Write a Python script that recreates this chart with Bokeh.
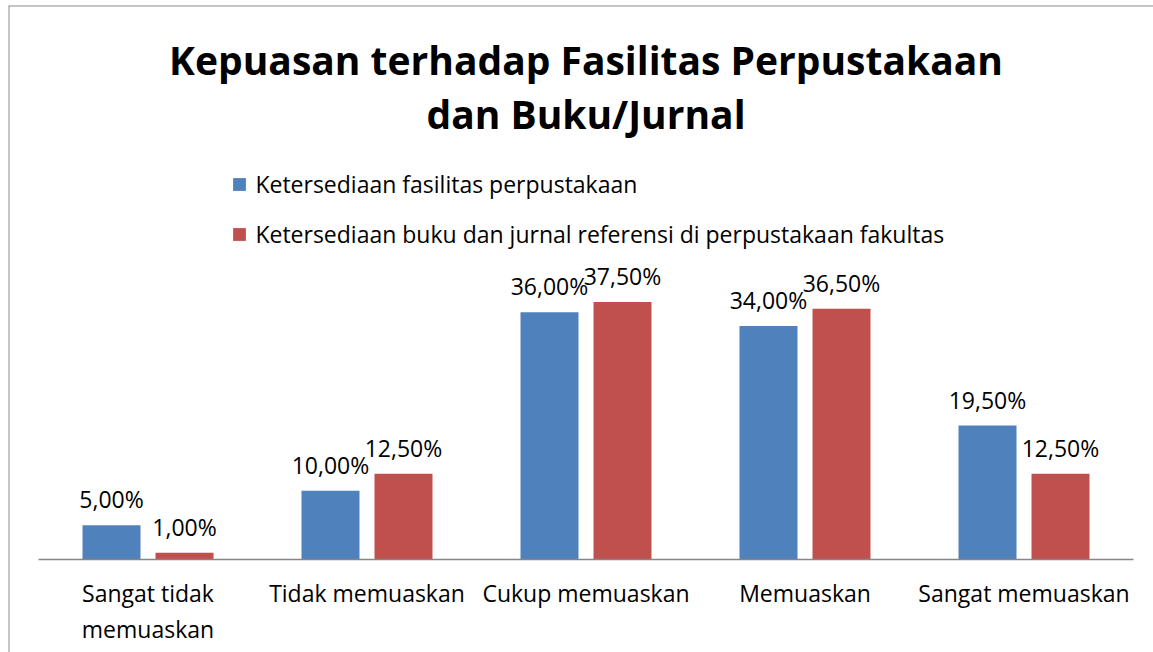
from bokeh.plotting import figure
from bokeh.models import ColumnDataSource, Label, Legend, LegendItem, FixedTicker, Range1d, Span
from bokeh.transform import dodge
from bokeh.core.properties import value
from bokeh.embed import file_html
from bokeh.resources import INLINE

# ---- data ----
categories = ["Sangat tidak\nmemuaskan", "Tidak memuaskan", "Cukup memuaskan", "Memuaskan", "Sangat memuaskan"]
fasilitas = [5.0, 10.0, 36.0, 34.0, 19.5]
buku = [1.0, 12.5, 37.5, 36.5, 12.5]
series_names = ["Ketersediaan fasilitas perpustakaan",
                "Ketersediaan buku dan jurnal referensi di perpustakaan fakultas"]
title_lines = ["Kepuasan terhadap Fasilitas Perpustakaan", "dan Buku/Jurnal"]


def fmt(v):
    return f"{v:.2f}".replace(".", ",") + "%"


idx = list(range(len(categories)))
src = ColumnDataSource(dict(
    idx=idx,
    fas=fasilitas,
    buk=buku,
    fas_lbl=[fmt(v) for v in fasilitas],
    buk_lbl=[fmt(v) for v in buku],
))

BLUE = "#4F81BD"
RED = "#C0504D"
FONT = "Open Sans"
W, H = 1153, 652
LEFT, TOP = 8, 5                 # frame (= chart border) offsets
XPX = 219.0                      # px per category
YPX = 6.87                       # px per percent
FRAME_W, FRAME_H = W - LEFT, H - TOP
x0 = -(147.5 - LEFT) / XPX
y0 = -(H - 559) / YPX

p = figure(width=W, height=H,
           x_range=Range1d(x0, x0 + FRAME_W / XPX),
           y_range=Range1d(y0, y0 + FRAME_H / YPX),
           output_backend="svg", toolbar_location=None,
           min_border_left=LEFT, min_border_right=0,
           min_border_top=TOP, min_border_bottom=0)
p.outline_line_color = None
p.grid.visible = False
p.yaxis.visible = False

xa = p.xaxis[0]
xa.fixed_location = 0
xa.bounds = (-0.5, len(categories) - 0.5)
xa.ticker = FixedTicker(ticks=idx)
xa.major_label_overrides = {i: c for i, c in zip(idx, categories)}
xa.axis_line_color = "#868686"
xa.axis_line_width = 1.5
xa.major_tick_line_color = None
xa.minor_tick_line_color = None
xa.major_label_text_font = FONT
xa.major_label_text_font_size = "23px"
xa.major_label_text_color = "#000000"
xa.major_label_standoff = 11
xa.major_label_text_line_height = 1.14

# chart border (left and top visible)
border = "#8c8c8c"
p.add_layout(Span(location=x0, dimension="height", line_color=border, line_width=2))
p.add_layout(Span(location=y0 + FRAME_H / YPX, dimension="width", line_color=border, line_width=2))

off = 73 / XPX / 2
bw = 58 / XPX
r1 = p.vbar(x=dodge("idx", -off), top="fas", width=bw, source=src,
            fill_color=BLUE, line_color=None)
r2 = p.vbar(x=dodge("idx", off), top="buk", width=bw, source=src,
            fill_color=RED, line_color=None)

for col, lbl, o in (("fas", "fas_lbl", -off), ("buk", "buk_lbl", off)):
    p.text(x=dodge("idx", o), y=col, text=lbl, source=src,
           text_font=value(FONT), text_font_size="23px", text_color="#000000",
           text_align="center", text_baseline="alphabetic", y_offset=-26)

legend = Legend(items=[LegendItem(label=series_names[0], renderers=[r1]),
                       LegendItem(label=series_names[1], renderers=[r2])],
                location=(231.4 - LEFT, H - 250), orientation="vertical",
                label_text_font=FONT, label_text_font_size="23px",
                label_text_color="#000000",
                glyph_width=16, glyph_height=16, label_standoff=8,
                spacing=18, padding=0, margin=0,
                border_line_color=None, background_fill_alpha=0)
p.add_layout(legend, "center")

for line, base in zip(title_lines, (58.5, 113)):
    p.add_layout(Label(x=585.5 - LEFT, y=H - base, x_units="screen", y_units="screen", text=line,
                       text_font=FONT, text_font_size="39px", text_font_style="bold",
                       text_align="center", text_baseline="alphabetic",
                       text_color="#000000"))

open("out.html", "w").write(file_html(p, INLINE))
